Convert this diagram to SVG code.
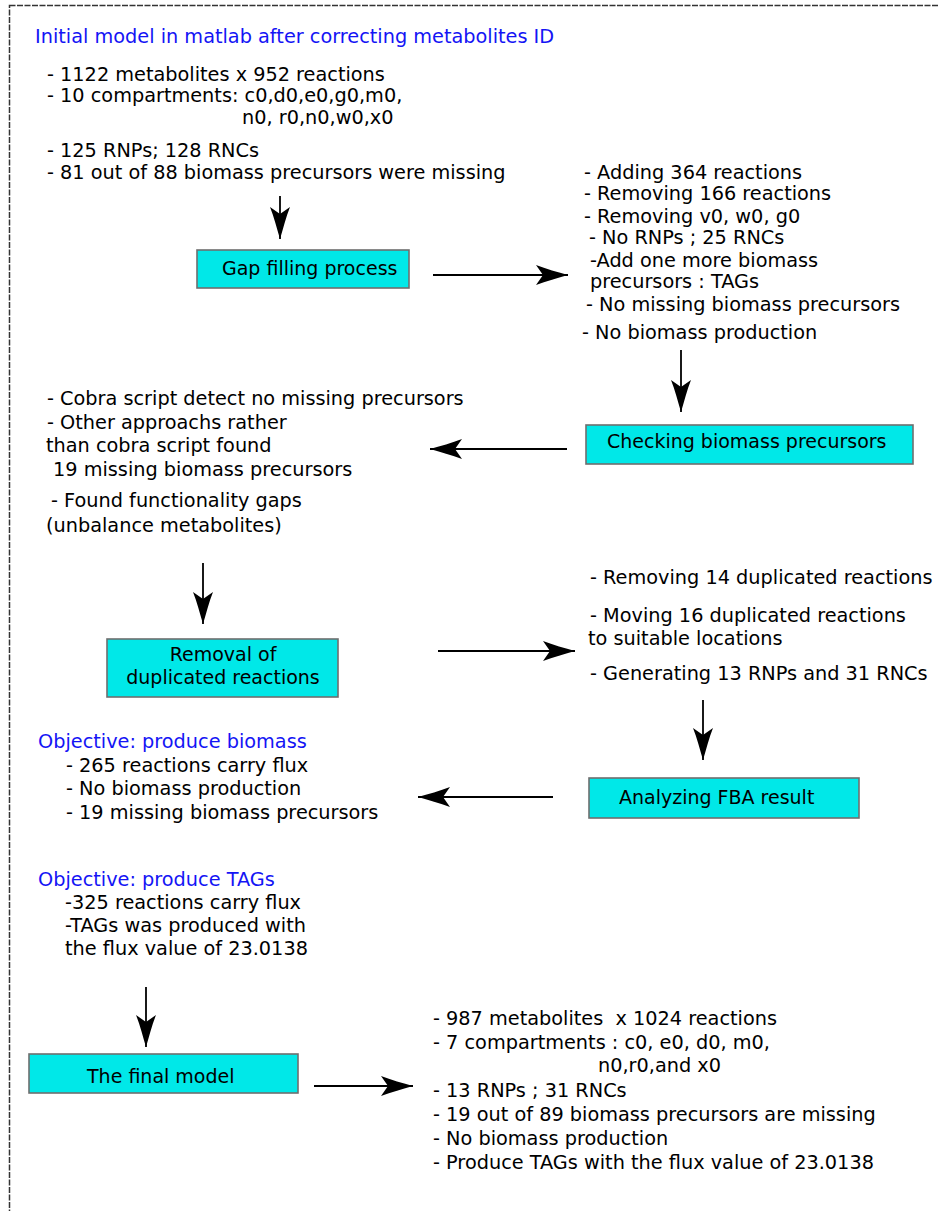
<svg xmlns="http://www.w3.org/2000/svg" width="938" height="1211" viewBox="0 0 938 1211">
<style>
text{font-family:"DejaVu Sans","Verdana",sans-serif;font-size:19.3px;fill:#000}
.bt{font-size:19px}
.blue{fill:#1414f5}
.box{fill:#00e8e8;stroke:#6e6e6e;stroke-width:1.6}
.conn line{stroke:#000;stroke-width:1.8;marker-end:url(#ah)}
.border{fill:none;stroke:#333;stroke-width:1.5;stroke-dasharray:6 1.5}
</style>
<defs>
<marker id="ah" markerUnits="userSpaceOnUse" orient="auto" refX="0" refY="0" markerWidth="40" markerHeight="24" viewBox="-34 -12 36 24" overflow="visible">
<path d="M0,0 C-10,-3 -22,-6 -32,-10 L-25,0 L-32,10 C-22,6 -10,3 0,0 Z" fill="#000"/>
</marker>
</defs>
<rect class="border" x="9.5" y="5.5" width="1000" height="1300"/>

<g id="initial-model">
<text class="blue" x="35" y="43">Initial model in matlab after correcting metabolites ID</text>
<text x="47" y="81">- 1122 metabolites x 952 reactions</text>
<text x="47" y="102">- 10 compartments: c0,d0,e0,g0,m0,</text>
<text x="242" y="124">n0, r0,n0,w0,x0</text>
<text x="47" y="157">- 125 RNPs; 128 RNCs</text>
<text x="47" y="179">- 81 out of 88 biomass precursors were missing</text>
</g>

<g id="gap-filling">
<rect class="box" x="197" y="250" width="212" height="38"/>
<text class="bt" x="222" y="275">Gap filling process</text>
</g>

<g id="gap-result">
<text x="584" y="179">- Adding 364 reactions</text>
<text x="584" y="200">- Removing 166 reactions</text>
<text x="584" y="223">- Removing v0, w0, g0</text>
<text x="589" y="244">- No RNPs ; 25 RNCs</text>
<text x="590" y="267">-Add one more biomass</text>
<text x="590" y="288">precursors : TAGs</text>
<text x="586" y="311">- No missing biomass precursors</text>
<text x="582" y="339">- No biomass production</text>
</g>

<g id="checking-biomass">
<rect class="box" x="586" y="425" width="327" height="39"/>
<text class="bt" x="607" y="448">Checking biomass precursors</text>
</g>

<g id="checking-result">
<text x="47" y="405">- Cobra script detect no missing precursors</text>
<text x="47" y="429">- Other approachs rather</text>
<text x="46" y="452">than cobra script found</text>
<text x="53" y="476">19 missing biomass precursors</text>
<text x="51" y="507">- Found functionality gaps</text>
<text x="46" y="532">(unbalance metabolites)</text>
</g>

<g id="removal-duplicated">
<rect class="box" x="107" y="639" width="231" height="58"/>
<text class="bt" x="223" y="661" text-anchor="middle">Removal of</text>
<text class="bt" x="223" y="684" text-anchor="middle">duplicated reactions</text>
</g>

<g id="removal-result">
<text x="590" y="584">- Removing 14 duplicated reactions</text>
<text x="590" y="622">- Moving 16 duplicated reactions</text>
<text x="588" y="645">to suitable locations</text>
<text x="590" y="680">- Generating 13 RNPs and 31 RNCs</text>
</g>

<g id="analyzing-fba">
<rect class="box" x="589" y="778" width="270" height="40"/>
<text class="bt" x="619" y="804">Analyzing FBA result</text>
</g>

<g id="objective-biomass">
<text class="blue" x="38" y="748">Objective: produce biomass</text>
<text x="66" y="772">- 265 reactions carry flux</text>
<text x="66" y="795">- No biomass production</text>
<text x="66" y="819">- 19 missing biomass precursors</text>
</g>

<g id="objective-tags">
<text class="blue" x="38" y="886">Objective: produce TAGs</text>
<text x="65" y="909">-325 reactions carry flux</text>
<text x="65" y="932">-TAGs was produced with</text>
<text x="65" y="955">the flux value of 23.0138</text>
</g>

<g id="final-model">
<rect class="box" x="29" y="1054" width="269" height="39"/>
<text class="bt" x="87" y="1083">The final model</text>
</g>

<g id="final-result">
<text x="433" y="1025">- 987 metabolites &#160;x 1024 reactions</text>
<text x="433" y="1049">- 7 compartments : c0, e0, d0, m0,</text>
<text x="598" y="1072">n0,r0,and x0</text>
<text x="433" y="1097">- 13 RNPs ; 31 RNCs</text>
<text x="433" y="1121">- 19 out of 89 biomass precursors are missing</text>
<text x="433" y="1145">- No biomass production</text>
<text x="433" y="1169">- Produce TAGs with the flux value of 23.0138</text>
</g>

<g id="connectors" class="conn">
<line x1="280" y1="196" x2="280" y2="239"/>
<line x1="433" y1="275" x2="568" y2="275"/>
<line x1="681" y1="350" x2="681" y2="412"/>
<line x1="567" y1="449" x2="430" y2="449"/>
<line x1="203" y1="563" x2="203" y2="624"/>
<line x1="438" y1="651" x2="575" y2="651"/>
<line x1="703" y1="700" x2="703" y2="760"/>
<line x1="553" y1="797" x2="418" y2="797"/>
<line x1="146" y1="987" x2="146" y2="1047"/>
<line x1="314" y1="1086" x2="413" y2="1086"/>
</g>
</svg>
